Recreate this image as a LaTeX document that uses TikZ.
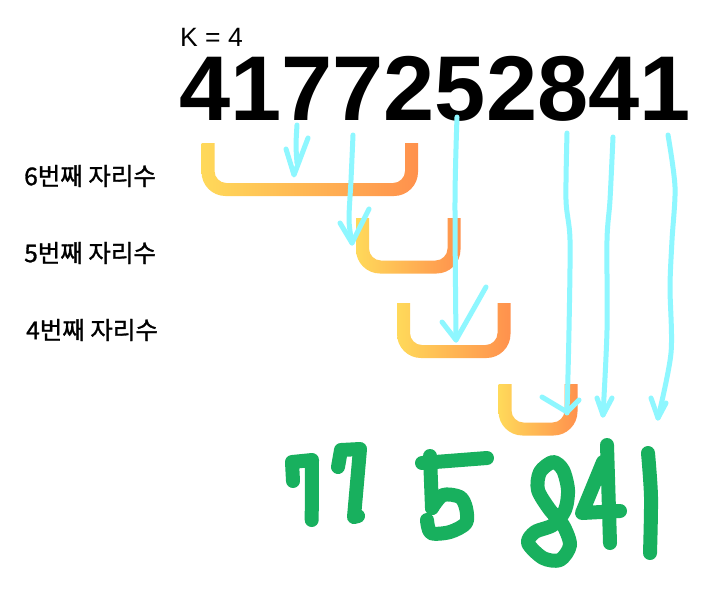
\documentclass[tikz,border=0pt]{standalone}
\usepackage{fontspec}
\setmainfont{Liberation Sans}
\newfontfamily\kor[FakeBold=1.2]{Noto Sans CJK KR}
\usepackage{tikz}

\definecolor{ylw}{HTML}{FFD95A}
\definecolor{org}{HTML}{FF914D}
\definecolor{penc}{HTML}{8EF7FF}
\definecolor{inkc}{HTML}{18B05E}

\tikzset{
  pen/.style={draw=penc, line width=5pt, line cap=round, line join=round},
  ink/.style={draw=inkc, line width=14pt, line cap=round, line join=round},
  lbl/.style={anchor=west, inner sep=0pt, font=\kor\fontsize{24.5}{27}\selectfont}
}

\begin{document}
\begin{tikzpicture}[x=1pt, y=-1pt]
\useasboundingbox[fill=white] (0,0) rectangle (722,606);

% number and K
\node[anchor=base west, inner sep=0pt, text height=19pt, text depth=0pt, font=\fontsize{26.5}{28}\selectfont] (k) at (180,46) {K = 4};
\node[anchor=base west, inner sep=0pt, text height=66pt, text depth=0pt, font=\bfseries\fontsize{92}{100}\selectfont] (num) at (179,120) {4177252841};

% labels
\node[lbl] (six) at (24,176) {6번째 자리수};
\node[lbl] (five) at (24,253) {5번째 자리수};
\node[lbl] (four) at (26,330) {4번째 자리수};

% brackets
\foreach \xl/\xr/\yt/\yb in {208/411.5/143/189.5, 362.5/454/218/267, 403.5/504/303/351.5, 505/571/384/429} {
  \begin{scope}
    \clip (\xl-8,\yt) rectangle (\xr+8,\yb+8);
    \shade[left color=ylw, right color=org, even odd rule]
      [rounded corners=24pt] (\xl-6.5,\yt-40) rectangle (\xr+6.5,\yb+6.5)
      [rounded corners=12pt] (\xl+6.5,\yt-40) rectangle (\xr-6.5,\yb-6.5);
  \end{scope}
}

% cyan arrows
\draw[pen] plot[smooth] coordinates {(297,125) (296,145) (297,163)};
\draw[pen] (286,149) -- (294,175) -- (308,138);
\draw[pen] plot[smooth] coordinates {(353,135) (351,180) (349,220) (352,243)};
\draw[pen] (340,223) -- (352,243) -- (369,209);
\draw[pen] plot[smooth] coordinates {(457,117) (455,200) (456,340)};
\draw[pen] (442,322) -- (456,340) -- (486,287);
\draw[pen] plot[smooth] coordinates {(567,133) (566,200) (570,240) (569,330) (567,413)};
\draw[pen] (542,397) -- (567,412) -- (579,400);
\draw[pen] plot[smooth] coordinates {(613,137) (610,200) (607,240) (607,330) (603,415)};
\draw[pen] (597,398) -- (603,415) -- (612,398);
\draw[pen] plot[smooth] coordinates {(668,135) (675,187) (672,240) (670,287) (671,353) (658,418)};
\draw[pen] (651,398) -- (658,418) -- (666,403);

% green result 77 5 841
\draw[ink] (293,481) -- (292,462) -- (312,460) -- (311.7,520);
\draw[ink] (338,467) -- (341,450) -- (360,449) -- (354,517) -- (358,516);
\draw[ink] (422,463) -- (487,458);
\draw[ink] (430,456) -- (432,508);
\draw[ink] plot[smooth] coordinates {(432,508) (443,495) (460,497) (466,508) (466,523) (450,532) (431,533) (427,520)};
\draw[ink] plot[smooth cycle] coordinates {(553,462) (540,472) (538,490) (550,510) (563,525) (570,545) (560,560) (543,558) (528,543) (535,532) (553,525) (565,510) (568,490) (563,470)};
\draw[ink] (607,445) -- (610,543);
\draw[ink] (603,462) -- (582,513) -- (620,511);
\draw[ink] plot[smooth] coordinates {(648,453) (651,497) (650,553)};
\end{tikzpicture}
\end{document}
